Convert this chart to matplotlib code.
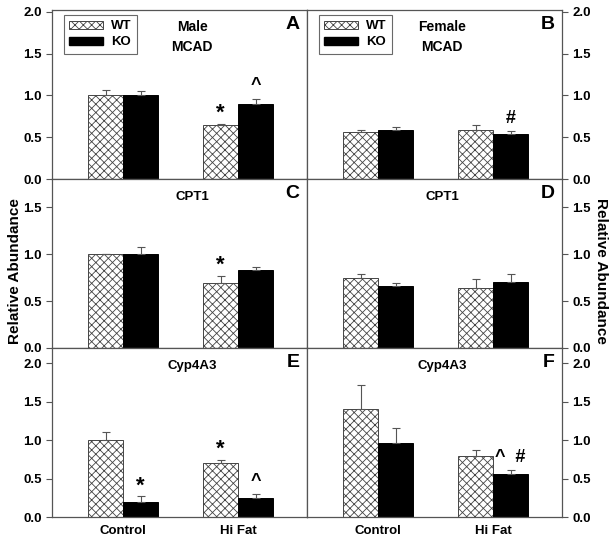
import numpy as np
import matplotlib
matplotlib.use("Agg")
import matplotlib.pyplot as plt
from matplotlib.patches import Patch

plt.rcParams['font.family'] = ['Liberation Sans', 'DejaVu Sans']
plt.rcParams['font.weight'] = 'bold'
plt.rcParams['hatch.linewidth'] = 0.6
plt.rcParams['hatch.color'] = '#333333'

groups = ['Control', 'Hi Fat']
series = ['WT', 'KO']
panels = ['A', 'B', 'C', 'D', 'E', 'F']
titles = ['Male\nMCAD', 'Female\nMCAD', 'CPT1', 'CPT1', 'Cyp4A3', 'Cyp4A3']

# [WT control, WT hi fat], [KO control, KO hi fat]
wt_mean = [[1.00, 0.65], [0.56, 0.59], [1.00, 0.69], [0.75, 0.64], [1.00, 0.70], [1.41, 0.80]]
wt_err = [[0.06, 0.01], [0.02, 0.06], [0.005, 0.08], [0.04, 0.09], [0.11, 0.04], [0.31, 0.07]]
ko_mean = [[1.00, 0.90], [0.58, 0.54], [1.00, 0.83], [0.66, 0.70], [0.20, 0.25], [0.965, 0.56]]
ko_err = [[0.05, 0.06], [0.04, 0.03], [0.075, 0.03], [0.03, 0.09], [0.07, 0.05], [0.20, 0.05]]

# significance marks: (panel index, group index, series, symbol)
marks = [(0, 1, 'WT', '*'), (0, 1, 'KO', '^'),
         (1, 1, 'KO', '#'),
         (2, 1, 'WT', '*'),
         (4, 0, 'KO', '*'), (4, 1, 'WT', '*'), (4, 1, 'KO', '^'),
         (5, 1, 'KO', '^  #')]

row_ylim = [2.02, 1.80, 2.2]
row_ticks = [[0, 0.5, 1.0, 1.5, 2.0], [0, 0.5, 1.0, 1.5], [0, 0.5, 1.0, 1.5, 2.0]]

fig = plt.figure(figsize=(6.15, 5.42), dpi=100)
L, R, B, T = 52 / 615, 562 / 615, 1 - 517 / 542, 1 - 10 / 542
w = (R - L) / 2
h = (T - B) / 3
x = np.arange(len(groups))
bw = 0.305
spine_c = '#555555'

for i in range(6):
    row, col = i // 2, i % 2
    ax = fig.add_axes([L + col * w, T - (row + 1) * h, w, h])
    wm, we = wt_mean[i], wt_err[i]
    km, ke = ko_mean[i], ko_err[i]
    ax.bar(x - bw / 2, wm, bw, color='white', edgecolor='#444444', hatch='xxxx', linewidth=0.7,
           yerr=[np.zeros(2), we], error_kw=dict(ecolor='#555555', elinewidth=0.8, capsize=3, capthick=0.8))
    ax.bar(x + bw / 2, km, bw, color='black', edgecolor='black', linewidth=0.7,
           yerr=[np.zeros(2), ke], error_kw=dict(ecolor='#555555', elinewidth=0.8, capsize=3, capthick=0.8))
    ax.set_xlim(-0.62, 1.6)
    ax.set_ylim(0, row_ylim[row])
    ax.set_yticks(row_ticks[row])
    ax.set_yticklabels(['%.1f' % t for t in row_ticks[row]], fontsize=9.5, fontweight='bold')
    for s in ax.spines.values():
        s.set_color(spine_c)
        s.set_linewidth(0.9)
    if col == 1:
        ax.yaxis.tick_right()
    ax.tick_params(axis='y', color=spine_c, length=4, width=0.8)
    if row == 2:
        ax.set_xticks(x)
        ax.set_xticklabels(groups, fontsize=9.5, fontweight='bold')
        ax.tick_params(axis='x', length=0, pad=6)
    else:
        ax.set_xticks([])
    ax.text(0.97, 0.965, panels[i], transform=ax.transAxes, ha='right', va='top',
            fontsize=14, fontweight='bold')
    tx = 0.55 if col == 0 else 0.53
    if row == 0:
        ax.text(tx, 0.94, titles[i], transform=ax.transAxes, ha='center', va='top',
                fontsize=10, fontweight='bold', linespacing=1.5)
    else:
        ax.text(tx, 0.93, titles[i], transform=ax.transAxes, ha='center', va='top',
                fontsize=9.5, fontweight='bold')
    for (p, g, s, sym) in marks:
        if p != i:
            continue
        if s == 'WT':
            xx, top = g - bw / 2, wm[g] + we[g]
        else:
            xx, top = g + bw / 2, km[g] + ke[g]
        fs = 16 if sym == '*' else 13
        yy = top + (0.0 if sym == '*' else 0.025) * row_ylim[row]
        ax.text(xx, yy, sym, ha='center', va='bottom', fontsize=fs, fontweight='bold')
    if row == 0:
        handles = [Patch(facecolor='white', edgecolor='#444444', hatch='xxxx', linewidth=0.7),
                   Patch(facecolor='black', edgecolor='black')]
        leg = ax.legend(handles, series, loc='upper left', bbox_to_anchor=(0.035, 0.985),
                        fontsize=9.5, frameon=True, fancybox=False, handlelength=2.6,
                        handleheight=0.55, borderpad=0.4, labelspacing=0.3, handletextpad=0.6,
                        borderaxespad=0.2)
        leg.get_frame().set_edgecolor('#444444')
        leg.get_frame().set_linewidth(0.8)
        for t in leg.get_texts():
            t.set_fontweight('bold')

fig.text(0.024, 0.5, 'Relative Abundance', rotation=90, ha='center', va='center',
         fontsize=11, fontweight='bold')
fig.text(0.978, 0.5, 'Relative Abundance', rotation=-90, ha='center', va='center',
         fontsize=11, fontweight='bold')

fig.savefig('out.png', dpi=100)
